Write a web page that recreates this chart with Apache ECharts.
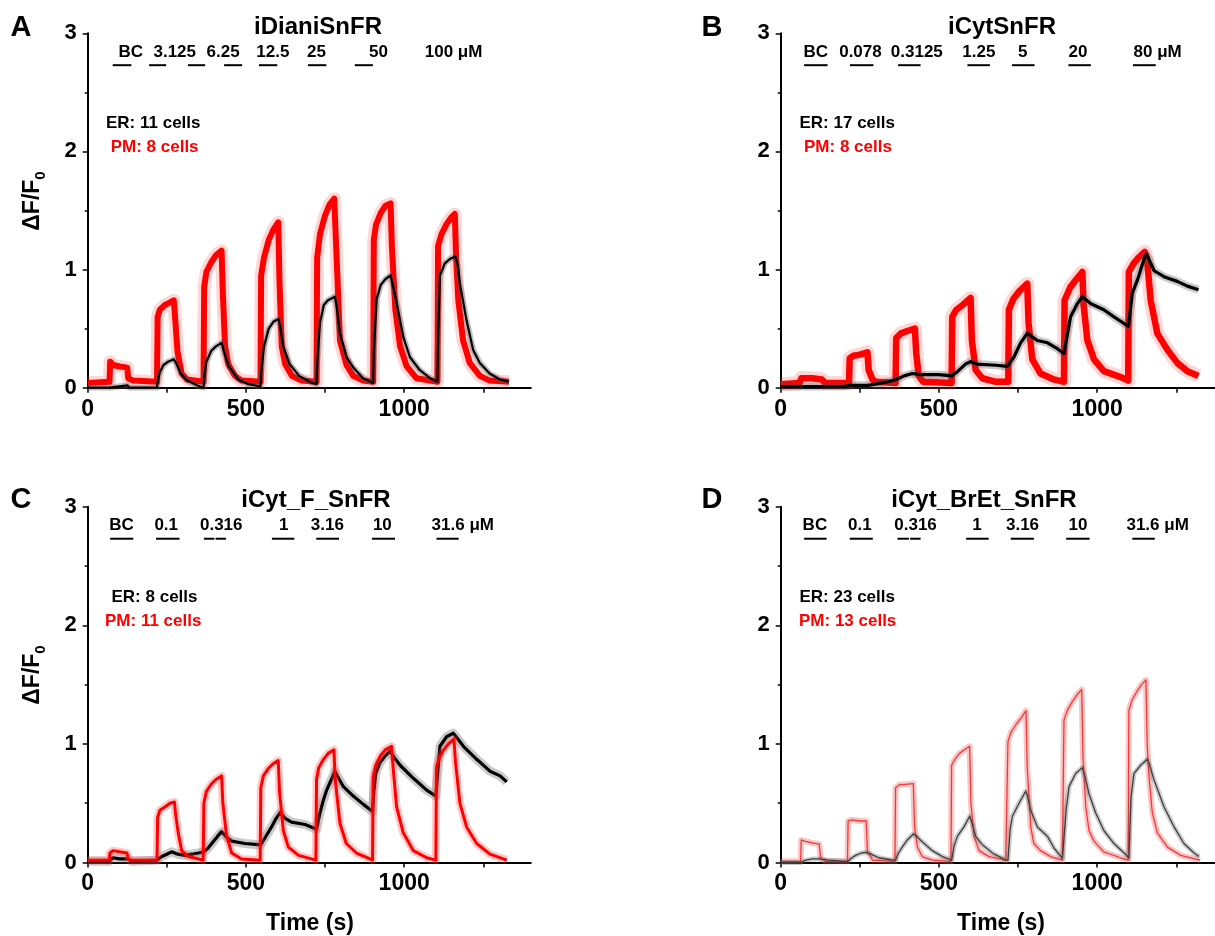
<!DOCTYPE html>
<html><head><meta charset="utf-8">
<script src="https://cdn.jsdelivr.net/npm/echarts@6/dist/echarts.min.js"></script>
<style>html,body{margin:0;padding:0;background:#fff}#c{width:1215px;height:936px}</style>
</head><body><div id="c"></div>
<script>
// ---------- data (time s, ΔF/F0) ----------
const pmA = [[0,0.04],[69,0.05],[71,0.22],[82,0.19],[102,0.18],[125,0.17],[128,0.08],[143,0.06],[219,0.05],[221,0.6],[228,0.66],[244,0.7],[259,0.72],[272,0.74],[276,0.6],[284,0.3],[297,0.12],[314,0.07],[366,0.05],[368,0.85],[375,0.98],[390,1.06],[405,1.12],[423,1.16],[427,0.8],[434,0.35],[444,0.2],[465,0.1],[486,0.06],[546,0.05],[548,0.95],[557,1.1],[572,1.25],[587,1.34],[602,1.4],[606,0.9],[613,0.35],[624,0.2],[645,0.1],[676,0.06],[723,0.05],[725,1.1],[734,1.3],[749,1.45],[764,1.55],[779,1.6],[785,1.2],[797,0.4],[818,0.19],[839,0.1],[870,0.06],[902,0.05],[904,1.25],[911,1.38],[926,1.48],[941,1.54],[957,1.56],[961,1.2],[972,0.66],[987,0.35],[1008,0.18],[1039,0.08],[1105,0.05],[1107,1.2],[1118,1.3],[1133,1.38],[1148,1.44],[1160,1.47],[1164,1.1],[1171,0.74],[1186,0.4],[1207,0.21],[1239,0.1],[1270,0.06],[1331,0.05]];
const erA = [[0,0],[69,0],[71,0.01],[125,0.02],[132,0],[219,0],[221,0.05],[228,0.13],[239,0.19],[254,0.22],[272,0.24],[279,0.21],[294,0.12],[314,0.06],[345,0.02],[366,0],[368,0.08],[375,0.22],[390,0.31],[405,0.35],[423,0.38],[431,0.3],[446,0.18],[476,0.07],[507,0.03],[546,0.01],[548,0.12],[557,0.35],[572,0.5],[587,0.56],[603,0.58],[608,0.52],[618,0.35],[638,0.2],[668,0.1],[709,0.04],[723,0.03],[725,0.2],[734,0.55],[746,0.7],[759,0.74],[781,0.77],[787,0.68],[797,0.46],[818,0.26],[839,0.17],[870,0.08],[902,0.04],[904,0.3],[913,0.75],[926,0.87],[941,0.92],[957,0.95],[963,0.88],[977,0.71],[997,0.43],[1018,0.26],[1049,0.15],[1082,0.08],[1105,0.05],[1107,0.4],[1113,0.95],[1128,1.05],[1144,1.09],[1162,1.11],[1169,1.04],[1176,0.88],[1197,0.57],[1218,0.32],[1239,0.21],[1270,0.12],[1302,0.07],[1331,0.05]];

const pmB = [[0,0.03],[60,0.04],[65,0.08],[100,0.08],[130,0.07],[140,0.04],[216,0.04],[218,0.25],[230,0.27],[250,0.28],[274,0.3],[278,0.15],[290,0.07],[300,0.05],[363,0.04],[365,0.42],[380,0.46],[400,0.48],[424,0.5],[428,0.3],[436,0.1],[450,0.05],[540,0.04],[542,0.6],[555,0.66],[575,0.7],[600,0.76],[604,0.4],[616,0.15],[637,0.08],[680,0.05],[719,0.05],[721,0.66],[735,0.75],[755,0.82],[779,0.88],[783,0.55],[795,0.24],[821,0.12],[863,0.07],[895,0.05],[897,0.74],[915,0.85],[935,0.92],[953,0.98],[957,0.7],[969,0.4],[990,0.24],[1021,0.14],[1074,0.09],[1098,0.06],[1100,0.98],[1115,1.05],[1130,1.1],[1150,1.15],[1157,1.1],[1169,0.74],[1190,0.46],[1222,0.32],[1253,0.21],[1285,0.14],[1320,0.1]];
const erB = [[0,0.01],[200,0.01],[218,0.02],[276,0.02],[300,0.03],[340,0.05],[365,0.07],[390,0.1],[416,0.12],[440,0.11],[500,0.11],[540,0.1],[560,0.14],[584,0.2],[600,0.22],[620,0.2],[680,0.19],[716,0.18],[737,0.26],[758,0.38],[779,0.46],[811,0.4],[843,0.38],[874,0.33],[895,0.29],[897,0.3],[916,0.6],[937,0.71],[953,0.77],[980,0.71],[1021,0.66],[1053,0.6],[1098,0.52],[1100,0.55],[1111,0.8],[1127,0.91],[1148,1.09],[1156,1.13],[1180,0.99],[1211,0.94],[1253,0.9],[1285,0.86],[1320,0.83]];

const pmC = [[0,0.02],[68,0.02],[70,0.08],[80,0.1],[100,0.09],[124,0.08],[128,0.03],[140,0.02],[219,0.02],[221,0.38],[228,0.44],[245,0.47],[260,0.5],[274,0.51],[278,0.4],[286,0.25],[297,0.1],[318,0.05],[365,0.02],[367,0.5],[375,0.6],[390,0.66],[405,0.7],[423,0.73],[427,0.5],[439,0.22],[455,0.08],[486,0.03],[545,0.02],[547,0.63],[555,0.73],[570,0.79],[585,0.83],[602,0.86],[606,0.6],[618,0.27],[634,0.13],[666,0.06],[721,0.02],[723,0.7],[730,0.8],[745,0.87],[760,0.92],[778,0.95],[782,0.7],[797,0.33],[817,0.16],[849,0.08],[892,0.03],[900,0.02],[902,0.72],[910,0.82],[925,0.9],[940,0.95],[960,0.98],[965,0.8],[976,0.47],[997,0.25],[1029,0.1],[1071,0.04],[1100,0.02],[1102,0.8],[1110,0.88],[1125,0.95],[1140,1.0],[1157,1.04],[1162,0.85],[1176,0.5],[1197,0.3],[1229,0.16],[1271,0.07],[1324,0.02]];
const erC = [[0,0.01],[68,0.01],[80,0.04],[100,0.03],[126,0.03],[140,0.01],[219,0.02],[234,0.05],[250,0.07],[265,0.09],[285,0.07],[307,0.06],[330,0.07],[350,0.08],[367,0.09],[380,0.12],[392,0.16],[410,0.22],[423,0.26],[440,0.21],[455,0.18],[497,0.16],[539,0.15],[547,0.15],[565,0.23],[581,0.3],[595,0.37],[608,0.42],[625,0.37],[644,0.34],[687,0.32],[723,0.28],[734,0.42],[745,0.53],[755,0.61],[770,0.7],[781,0.77],[795,0.7],[808,0.64],[839,0.56],[871,0.49],[900,0.43],[904,0.6],[910,0.75],[923,0.84],[940,0.9],[955,0.94],[970,0.88],[987,0.82],[1029,0.71],[1071,0.61],[1100,0.56],[1104,0.7],[1113,0.98],[1134,1.06],[1155,1.09],[1170,1.04],[1187,0.98],[1229,0.87],[1271,0.77],[1303,0.73],[1324,0.68]];

const pmD = [[0,0.01],[63,0.01],[65,0.19],[75,0.18],[100,0.165],[122,0.155],[126,0.04],[140,0.01],[211,0.01],[213,0.35],[225,0.36],[250,0.35],[270,0.35],[274,0.1],[290,0.02],[361,0.01],[363,0.63],[375,0.655],[400,0.66],[419,0.665],[423,0.3],[432,0.13],[447,0.05],[479,0.02],[538,0.01],[540,0.82],[550,0.87],[565,0.92],[580,0.95],[597,0.98],[601,0.5],[611,0.22],[627,0.1],[658,0.05],[711,0.02],[716,0.01],[718,1.02],[728,1.1],[745,1.17],[760,1.22],[775,1.28],[779,0.8],[790,0.3],[800,0.16],[821,0.1],[853,0.05],[890,0.02],[893,0.01],[895,1.2],[905,1.28],[920,1.35],[935,1.41],[951,1.46],[955,0.9],[964,0.47],[974,0.27],[990,0.18],[1021,0.09],[1074,0.04],[1098,0.02],[1100,1.28],[1110,1.37],[1125,1.44],[1140,1.5],[1154,1.54],[1158,1.0],[1163,0.75],[1174,0.42],[1190,0.25],[1222,0.13],[1264,0.06],[1325,0.02]];
const erD = [[0,0],[63,0],[80,0.02],[100,0.03],[124,0.03],[150,0.02],[200,0.01],[213,0.01],[225,0.04],[237,0.06],[255,0.08],[270,0.085],[285,0.07],[311,0.04],[353,0.02],[363,0.02],[372,0.08],[384,0.13],[400,0.19],[419,0.24],[430,0.22],[447,0.175],[479,0.1],[511,0.05],[540,0.02],[548,0.14],[558,0.22],[579,0.3],[597,0.39],[605,0.33],[616,0.22],[637,0.15],[669,0.08],[711,0.02],[718,0.02],[725,0.28],[732,0.39],[753,0.5],[774,0.6],[780,0.56],[790,0.44],[811,0.3],[843,0.22],[864,0.12],[890,0.035],[895,0.03],[902,0.45],[911,0.64],[932,0.75],[953,0.8],[962,0.72],[974,0.58],[995,0.42],[1021,0.27],[1053,0.16],[1085,0.08],[1100,0.04],[1107,0.55],[1116,0.75],[1137,0.82],[1158,0.87],[1165,0.83],[1179,0.7],[1211,0.47],[1243,0.3],[1274,0.16],[1306,0.08],[1322,0.05]];

// application bars (start, end in s) and concentration labels (centre time)
const barsA = [[79,138],[194,248],[317,371],[431,488],[541,599],[696,754],[844,901]];
const labelsA = ['BC','3.125','6.25','12.5','25','50','100 μM'];
const labelTA = [136,275,428,585,723,919,1156];
const barsB = [[74,148],[219,293],[371,442],[590,661],[731,802],[909,980],[1113,1185]];
const labelsB = ['BC','0.078','0.3125','1.25','5','20','80 μM'];
const labelTB = [111,252,430,626,765,939,1191];
const barsC = [[71,144],[216,290],[367,400],[404,437],[582,653],[722,794],[898,971],[1102,1172]];
const labelsC = ['BC','0.1','0.316','1','3.16','10','31.6 μM'];
const labelTC = [107,248,422,619,757,931,1185];
const barsD = [[74,145],[218,291],[369,405],[409,442],[586,657],[727,800],[902,976],[1111,1182]];
const labelsD = ['BC','0.1','0.316','1','3.16','10','31.6 μM'];
const labelTD = [108,250,426,620,764,939,1191];

const titles = ['iDianiSnFR','iCytSnFR','iCyt_F_SnFR','iCyt_BrEt_SnFR'];
const letters = ['A','B','C','D'];
const erCells = ['ER: 11 cells','ER: 17 cells','ER: 8 cells','ER: 23 cells'];
const pmCells = ['PM: 8 cells','PM: 8 cells','PM: 11 cells','PM: 13 cells'];
const xTickVals = [0,250,500,750,1000,1250];
const xLabelVals = [0,500,1000];
const yLabelVals = [0,1,2,3];

// ---------- layout / style ----------
const FONT = 'Liberation Sans, Arial, Helvetica, sans-serif';
const grids = [
  {left:87.7, top:33.3, width:443.1, height:354.4},
  {left:780.7, top:33.3, width:443.1, height:354.4},
  {left:87.7, top:506.7, width:443.1, height:355.8},
  {left:780.7, top:506.7, width:443.1, height:355.8}
];
const BAR_Y = 2.73, LABEL_Y = 2.84;
const RED = '#ff0000';

const panels = [
  {er:erA, pm:pmA, bars:barsA, labels:labelsA, lt:labelTA, erTop:true,
   pmS:{c:RED,w:6,b:'rgba(255,70,70,0.22)',bw:13}, erS:{c:'#000',w:2.2,b:'rgba(80,80,80,0.35)',bw:6}},
  {er:erB, pm:pmB, bars:barsB, labels:labelsB, lt:labelTB, erTop:true,
   pmS:{c:RED,w:6.5,b:'rgba(255,70,70,0.22)',bw:14}, erS:{c:'#000',w:3.2,b:'rgba(80,80,80,0.3)',bw:8}},
  {er:erC, pm:pmC, bars:barsC, labels:labelsC, lt:labelTC, erTop:false,
   pmS:{c:RED,w:3,b:'rgba(255,70,70,0.3)',bw:8}, erS:{c:'#000',w:3.2,b:'rgba(80,80,80,0.3)',bw:9}},
  {er:erD, pm:pmD, bars:barsD, labels:labelsD, lt:labelTD, erTop:true,
   pmS:{c:'#ee3a3a',w:1.3,b:'rgba(240,90,90,0.35)',bw:6}, erS:{c:'#3c3c3c',w:1.3,b:'rgba(90,90,90,0.3)',bw:5}}
];

function traceSeries(i, data, s, z) {
  const base = {type:'line', xAxisIndex:i, yAxisIndex:i, data:data, showSymbol:false,
    symbol:'none', animation:false, silent:true, sampling:null, clip:true};
  return [
    Object.assign({}, base, {z:z, lineStyle:{color:s.b, width:s.bw, join:'round', cap:'butt'}}),
    Object.assign({}, base, {z:z+0.5, lineStyle:{color:s.c, width:s.w, join:'round', cap:'butt'}})
  ];
}

const xAxes = [], yAxes = [], series = [], graphic = [];
panels.forEach((p, i) => {
  xAxes.push({gridIndex:i, type:'value', min:0, max:1400,
    axisLine:{show:true, lineStyle:{color:'#000', width:2}},
    axisTick:{show:true, customValues:xTickVals, length:5, lineStyle:{color:'#000', width:1.5}},
    axisLabel:{show:true, customValues:xLabelVals, formatter:v => String(v), margin:10, color:'#000', fontFamily:FONT, fontWeight:'bold', fontSize:23},
    splitLine:{show:false}});
  yAxes.push({gridIndex:i, type:'value', min:0, max:3, interval:1,
    axisLine:{show:true, lineStyle:{color:'#000', width:2}},
    axisTick:{show:true, length:5, lineStyle:{color:'#000', width:1.5}},
    minorTick:{show:true, splitNumber:2, length:3, lineStyle:{color:'#000', width:1.5}},
    axisLabel:{show:true, customValues:yLabelVals, formatter:v => String(v), margin:11, color:'#000', fontFamily:FONT, fontWeight:'bold', fontSize:22},
    splitLine:{show:false}, minorSplitLine:{show:false}});
  if (p.erTop) {
    series.push(...traceSeries(i, p.pm, p.pmS, 2));
    series.push(...traceSeries(i, p.er, p.erS, 3));
  } else {
    series.push(...traceSeries(i, p.er, p.erS, 2));
    series.push(...traceSeries(i, p.pm, p.pmS, 3));
  }
  series.push({type:'custom', xAxisIndex:i, yAxisIndex:i, silent:true, animation:false, z:5, clip:false,
    data:p.bars,
    renderItem:(params, api) => {
      const a = api.coord([api.value(0), BAR_Y]);
      const b = api.coord([api.value(1), BAR_Y]);
      return {type:'line', shape:{x1:a[0], y1:a[1], x2:b[0], y2:b[1]}, style:{stroke:'#000', lineWidth:2}};
    }});
  const labs = p.labels;
  series.push({type:'custom', xAxisIndex:i, yAxisIndex:i, silent:true, animation:false, z:5, clip:false,
    data:p.lt.map(t => [t, LABEL_Y]),
    renderItem:(params, api) => {
      const a = api.coord([api.value(0), api.value(1)]);
      return {type:'text', x:a[0], y:a[1], style:{text:labs[params.dataIndex], fill:'#000',
        font:'bold 17px ' + FONT, align:'center', verticalAlign:'middle'}};
    }});
});

function txt(x, y, text, size, color, align, extra) {
  return Object.assign({type:'text', x:x, y:y, silent:true, z:10,
    style:{text:text, fill:color || '#000', font:'bold ' + size + 'px ' + FONT,
      align:align || 'center', verticalAlign:'middle'}}, extra || {});
}
// panel letters and titles
const letterPos = [[21,28],[712,28],[21,500],[712,500]];
const titlePos = [[318,27],[1002,27],[316,500],[984,500]];
const erPos = [[106,123.5],[799.5,123.5],[111.5,597.5],[799.5,597.5]];
const pmPos = [[110.7,147],[804,147],[105,621.5],[799,621.5]];
for (let i = 0; i < 4; i++) {
  graphic.push(txt(letterPos[i][0], letterPos[i][1], letters[i], 29));
  graphic.push(txt(titlePos[i][0], titlePos[i][1], titles[i], 24));
  graphic.push(txt(erPos[i][0], erPos[i][1], erCells[i], 17, '#000', 'left'));
  graphic.push(txt(pmPos[i][0], pmPos[i][1], pmCells[i], 17, RED, 'left'));
}
// axis titles
[[33,201],[33,675]].forEach(pos => {
  graphic.push({type:'text', x:pos[0], y:pos[1], rotation:Math.PI/2, silent:true, z:10,
    style:{text:'{a|ΔF/F}{b|0}', align:'center', verticalAlign:'middle',
      rich:{a:{font:'bold 23px ' + FONT, fill:'#000', lineHeight:30},
            b:{font:'bold 15px ' + FONT, fill:'#000', verticalAlign:'bottom', lineHeight:30}}}});
});
graphic.push(txt(310, 924, 'Time (s)', 23));
graphic.push(txt(1001, 924, 'Time (s)', 23));

const chart = echarts.init(document.getElementById('c'), null, {renderer:'canvas'});
chart.setOption({
  backgroundColor:'#fff', animation:false,
  grid: grids.map(g => Object.assign({containLabel:false, outerBoundsMode:'none'}, g)),
  xAxis:xAxes, yAxis:yAxes, series:series, graphic:graphic
});
</script></body></html>
